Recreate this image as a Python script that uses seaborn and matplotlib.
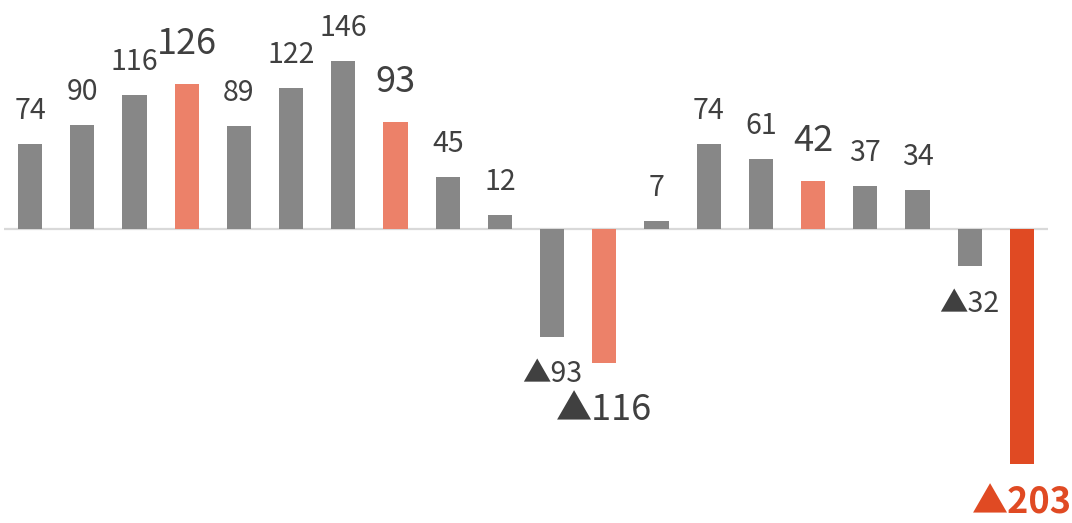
import matplotlib
matplotlib.use("Agg")
import matplotlib.pyplot as plt
import seaborn as sns
import pandas as pd

# Monthly change values (negative values are shown with ▲)
periods = [f"P{i:02d}" for i in range(1, 21)]
values = [74, 90, 116, 126, 89, 122, 146, 93, 45, 12,
          -93, -116, 7, 74, 61, 42, 37, 34, -32, -203]
# Bar roles: 0 = regular, 1 = highlighted, 2 = key result
roles = [0, 0, 0, 1, 0, 0, 0, 1, 0, 0,
         0, 1, 0, 0, 0, 1, 0, 0, 0, 2]

GRAY = "#878787"
SALMON = "#EC8169"
RED = "#E04A23"
TEXT = "#404040"
role_colors = {0: GRAY, 1: SALMON, 2: RED}

sns.set_theme(style="white")
plt.rcParams["font.family"] = ["Noto Sans CJK JP", "DejaVu Sans"]

df = pd.DataFrame({"period": periods, "value": values, "role": roles})
palette = [role_colors[r] for r in roles]

fig = plt.figure(figsize=(10.72, 5.23), dpi=100)
ax = fig.add_axes([4 / 1072, 0, 1044 / 1072, 1])

sns.barplot(data=df, x="period", y="value", hue="period", palette=palette,
            width=0.46, saturation=1, linewidth=0, legend=False, ax=ax)

ax.set_xlim(-0.5, 19.5)
ax.set_ylim(-254.5, 198.5)
ax.axhline(0, color="#D9D9D9", linewidth=1.6, zorder=0)
ax.axis("off")

# Value labels
for i, (v, r) in enumerate(zip(values, roles)):
    text = f"{v}" if v >= 0 else f"▲{abs(v)}"
    big = r > 0
    size = 26 if big else 20.5
    color = RED if r == 2 else TEXT
    weight = "bold" if r == 2 else "normal"
    if v >= 0:
        dy = (30 if big else 25) * 0.72
    else:
        dy = -((57 if big else 45.5) * 0.72)
    if r == 2:
        dy = -50 * 0.72
    ax.annotate(text, (i, v), xytext=(0, dy), textcoords="offset points",
                ha="center", va="baseline", fontsize=size, color=color,
                fontweight=weight, annotation_clip=False)

fig.savefig("out.png", dpi=100)
